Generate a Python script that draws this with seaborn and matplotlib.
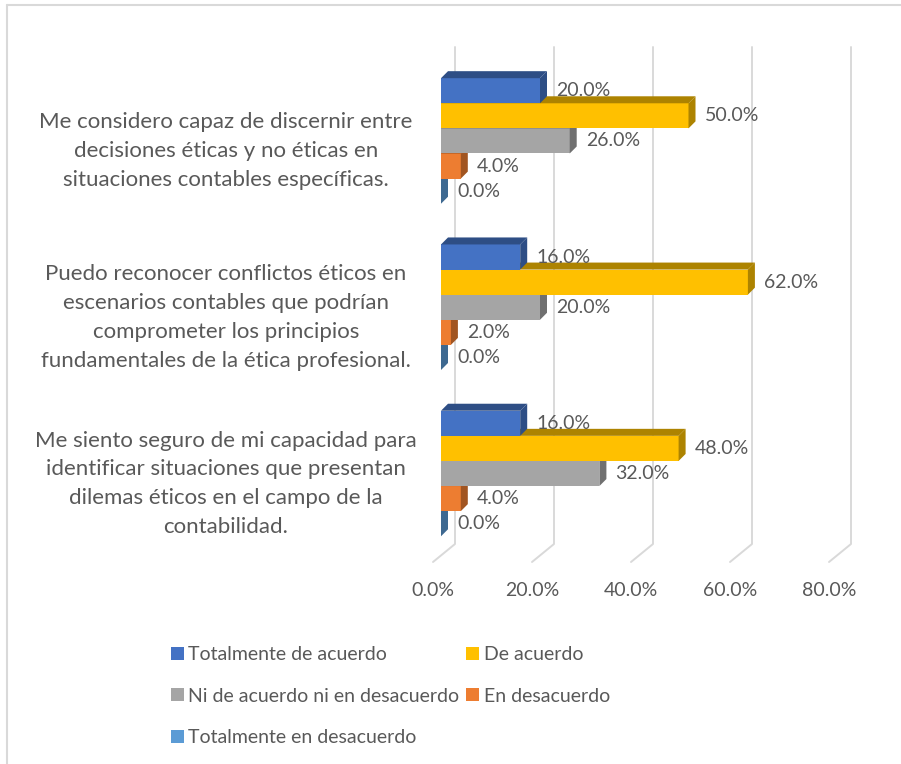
import numpy as np
import pandas as pd
import matplotlib.pyplot as plt
import matplotlib.transforms as mtransforms
from matplotlib.patches import Patch, Polygon
from matplotlib.lines import Line2D
from matplotlib.colors import to_rgb
import seaborn as sns

# ── datos ────────────────────────────────────────────────────
preguntas = [
    "Me considero capaz de discernir entre\ndecisiones éticas y no éticas en\nsituaciones contables específicas.",
    "Puedo reconocer conflictos éticos en\nescenarios contables que podrían\ncomprometer los principios\nfundamentales de la ética profesional.",
    "Me siento seguro de mi capacidad para\nidentificar situaciones que presentan\ndilemas éticos en el campo de la\ncontabilidad.",
]
respuestas = ["Totalmente de acuerdo", "De acuerdo",
              "Ni de acuerdo ni en desacuerdo", "En desacuerdo",
              "Totalmente en desacuerdo"]
totalmente_de_acuerdo    = [20.0, 16.0, 16.0]
de_acuerdo               = [50.0, 62.0, 48.0]
ni_acuerdo_ni_desacuerdo = [26.0, 20.0, 32.0]
en_desacuerdo            = [4.0, 2.0, 4.0]
totalmente_en_desacuerdo = [0.0, 0.0, 0.0]
colores = ["#4472C4", "#FFC000", "#A5A5A5", "#ED7D31", "#5B9BD5"]
ticks = [0, 20, 40, 60, 80]

series = [totalmente_de_acuerdo, de_acuerdo, ni_acuerdo_ni_desacuerdo,
          en_desacuerdo, totalmente_en_desacuerdo]
df = pd.DataFrame({
    "pregunta":  [p for s in series for p in preguntas],
    "respuesta": [r for r, s in zip(respuestas, series) for _ in s],
    "valor":     [v for s in series for v in s],
})

# ── estilo ───────────────────────────────────────────────────
sns.set_theme(style="white")
plt.rcParams["font.family"] = ["Lato", "DejaVu Sans"]
GRIS_TXT = "#595959"
GRIS_LIN = "#D9D9D9"
FS = 14

fig = plt.figure(figsize=(9.01, 7.64), dpi=100)
ax = fig.add_axes([441 / 901, 1 - 544 / 764, 396 / 901, 497 / 764])

sns.barplot(data=df, x="valor", y="pregunta", hue="respuesta",
            order=preguntas, hue_order=respuestas, palette=colores,
            orient="h", width=0.755, saturation=1, errorbar=None,
            legend=False, linewidth=0, ax=ax)

ax.set_xlim(0, 80)
ax.set_ylim(2.424, -0.565)
ax.set_xlabel("")
ax.set_ylabel("")
for s in ax.spines.values():
    s.set_visible(False)
ax.grid(False)

inv = ax.transData.inverted()


def desplazar(x, y, dx, dy):
    px, py = ax.transData.transform((x, y))
    return inv.transform((px + dx, py + dy))


# profundidad 3D de las barras (px)
DX, DY = 7, 7

# ── líneas de cuadrícula en perspectiva ──────────────────────
y_arr, y_ab = ax.get_ylim()[1], ax.get_ylim()[0]
for t in ticks:
    a = desplazar(t, y_arr, 14, 0)
    b = desplazar(t, y_ab, 14, 0)
    c = desplazar(t, y_ab, -8, -18)
    ax.plot([a[0], b[0], c[0]], [a[1], b[1], c[1]], color=GRIS_LIN,
            lw=1.4, zorder=0, clip_on=False)

# ── caras laterales y superiores ─────────────────────────────
for i, (cont, col) in enumerate(zip(ax.containers, colores)):
    z = 3 + (5 - i) * 0.1
    oscuro = tuple(c * 0.68 for c in to_rgb(col))
    for rect in cont.patches:
        rect.set_zorder(z)
        x0, x1 = rect.get_x(), rect.get_x() + rect.get_width()
        ya, yb = sorted([rect.get_y(), rect.get_y() + rect.get_height()])
        lado = [(x1, ya), (x1, yb), tuple(desplazar(x1, yb, DX, DY)),
                tuple(desplazar(x1, ya, DX, DY))]
        techo = [(x0, ya), (x1, ya), tuple(desplazar(x1, ya, DX, DY)),
                 tuple(desplazar(x0, ya, DX, DY))]
        for verts in (lado, techo):
            ax.add_patch(Polygon(verts, closed=True, facecolor=oscuro,
                                 edgecolor="none", zorder=z))
    anns = ax.bar_label(cont, labels=[f"{v:.1f}%" for v in cont.datavalues],
                        padding=11.5, fontsize=FS, color=GRIS_TXT)
    for an in anns:
        an.set_zorder(10)

# ── ejes ─────────────────────────────────────────────────────
ax.set_xticks(ticks)
ax.set_xticklabels([f"{t:.1f}%" for t in ticks])
ax.tick_params(axis="x", length=0, pad=27, labelsize=FS, labelcolor=GRIS_TXT)
ax.tick_params(axis="y", length=0, pad=155, labelsize=16, labelcolor=GRIS_TXT)
off_x = mtransforms.ScaledTranslation(-8 / 100, 0, fig.dpi_scale_trans)
for lab in ax.get_xticklabels():
    lab.set_transform(lab.get_transform() + off_x)
off_y = mtransforms.ScaledTranslation(0, -4 / 100, fig.dpi_scale_trans)
for lab in ax.get_yticklabels():
    lab.set_ha("center")
    lab.set_multialignment("center")
    lab.set_linespacing(1.56)
    lab.set_transform(lab.get_transform() + off_y)

# ── leyenda ──────────────────────────────────────────────────
handles = [Patch(facecolor=c, edgecolor="none") for c in colores]
orden = [0, 2, 4, 1, 3]
fig.legend([handles[k] for k in orden], [respuestas[k] for k in orden],
           loc="upper left", bbox_to_anchor=(171 / 901, 1 - 646 / 764),
           ncol=2, frameon=False, fontsize=FS, labelcolor=GRIS_TXT,
           handlelength=0.65, handleheight=0.65, handletextpad=0.25,
           columnspacing=0.35, labelspacing=1.26, borderpad=0,
           borderaxespad=0)

# ── marco ────────────────────────────────────────────────────
fig.add_artist(Line2D([7 / 901, 7 / 901], [0, 1 - 5 / 764],
                      transform=fig.transFigure, color=GRIS_LIN, lw=1.5))
fig.add_artist(Line2D([7 / 901, 1], [1 - 5 / 764, 1 - 5 / 764],
                      transform=fig.transFigure, color=GRIS_LIN, lw=1.5))

fig.savefig("out.png", dpi=100)
